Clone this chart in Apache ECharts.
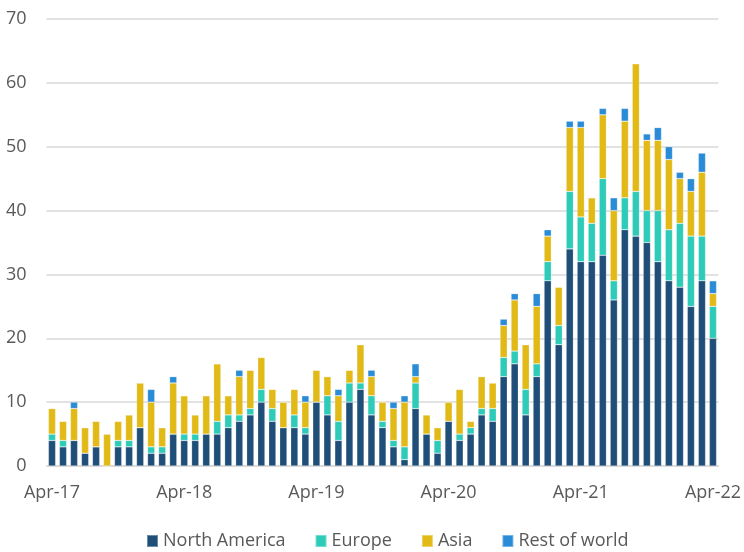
<!DOCTYPE html>
<html>
<head>
<meta charset="utf-8">
<script src="https://cdn.jsdelivr.net/npm/echarts@6/dist/echarts.min.js"></script>
<style>
  html, body { margin: 0; padding: 0; background: #fff; }
  #chart { width: 744px; height: 552px; }
</style>
</head>
<body>
<div id="chart"></div>
<script>
// months Apr-17 .. Apr-22
var months = ['Apr','May','Jun','Jul','Aug','Sep','Oct','Nov','Dec','Jan','Feb','Mar'];
var categories = [];
for (var i = 0; i < 61; i++) {
  var yr = 17 + Math.floor((i + 3) / 12);
  categories.push(months[i % 12] + '-' + yr);
}

var northAmerica = [4,3,4,2,3,0,3,3,6,2,2,5,4,4,5,5,6,7,8,10,7,6,6,5,10,8,4,10,12,8,6,3,1,9,5,2,7,4,5,8,7,14,16,8,14,29,19,34,32,32,33,26,37,36,35,32,29,28,25,29,20];
var europe       = [1,1,0,0,0,0,1,1,0,1,1,0,1,1,0,2,2,1,1,2,2,0,2,1,0,3,3,3,1,3,1,1,2,4,0,2,0,1,1,1,2,3,2,4,2,3,3,9,7,6,12,3,5,7,5,8,8,10,11,7,5];
var asia         = [4,3,5,4,4,5,3,4,7,7,3,8,6,3,6,9,3,6,6,5,3,4,4,4,5,3,4,2,6,3,3,5,7,1,3,2,3,7,1,5,4,5,8,7,9,4,6,10,14,4,10,11,12,20,11,11,11,7,7,10,2];
var restOfWorld  = [0,0,1,0,0,0,0,0,0,2,0,1,0,0,0,0,0,1,0,0,0,0,0,1,0,0,1,0,0,1,0,1,1,2,0,0,0,0,0,0,0,1,1,0,2,1,0,1,1,0,1,2,2,0,1,2,2,1,2,3,2];

var seriesNames = ['North America', 'Europe', 'Asia', 'Rest of world'];
var colors = ['#1F4E79', '#2ECBB8', '#E2BA18', '#2A8CD6'];
var yTicks = [0, 70, 10]; // min, max, interval

var font = '"Open Sans", sans-serif';
var txt = '#595959';

function bar(name, data, color) {
  return {
    name: name,
    type: 'bar',
    stack: 'total',
    data: data,
    barCategoryGap: '34%',
    itemStyle: { color: color, borderColor: 'rgba(255,255,255,0.35)', borderWidth: 0.6 },
    emphasis: { disabled: true }
  };
}

var chart = echarts.init(document.getElementById('chart'));
chart.setOption({
  animation: false,
  backgroundColor: '#fff',
  grid: { left: 46.5, right: 23.5, top: 19, bottom: 86, containLabel: false },
  legend: {
    data: seriesNames,
    top: 527,
    left: 141,
    icon: 'rect',
    itemWidth: 11,
    itemHeight: 12,
    itemGap: 29,
    textStyle: { color: txt, fontSize: 18, fontFamily: font }
  },
  xAxis: {
    type: 'category',
    data: categories,
    axisLine: { show: true, lineStyle: { color: '#d9d9d9', width: 1.5 } },
    axisTick: { show: false },
    axisLabel: { interval: 11, color: txt, fontSize: 18, fontFamily: font, margin: 18 }
  },
  yAxis: {
    type: 'value',
    min: yTicks[0],
    max: yTicks[1],
    interval: yTicks[2],
    axisLine: { show: false },
    axisTick: { show: false },
    splitLine: { lineStyle: { color: '#d9d9d9', width: 1.5 } },
    axisLabel: { color: txt, fontSize: 18, fontFamily: font, margin: 20 }
  },
  series: [
    bar(seriesNames[0], northAmerica, colors[0]),
    bar(seriesNames[1], europe, colors[1]),
    bar(seriesNames[2], asia, colors[2]),
    bar(seriesNames[3], restOfWorld, colors[3])
  ]
});
</script>
</body>
</html>
